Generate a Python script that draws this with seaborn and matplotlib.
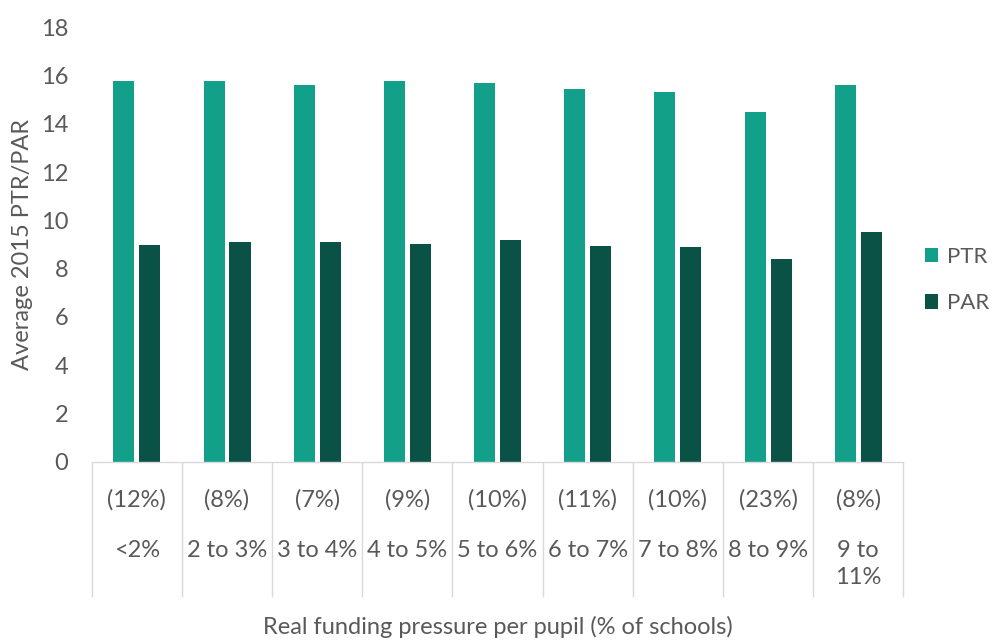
import pandas as pd
import numpy as np
import matplotlib.pyplot as plt
import seaborn as sns
from matplotlib.patches import Patch

ranges = ['<2%', '2 to 3%', '3 to 4%', '4 to 5%', '5 to 6%', '6 to 7%', '7 to 8%', '8 to 9%', '9 to\n11%']
shares = ['(12%)', '(8%)', '(7%)', '(9%)', '(10%)', '(11%)', '(10%)', '(23%)', '(8%)']
ptr = [15.79, 15.79, 15.63, 15.79, 15.68, 15.47, 15.31, 14.51, 15.63]
par = [8.99, 9.10, 9.10, 9.03, 9.20, 8.95, 8.88, 8.41, 9.52]

series_names = ['PTR', 'PAR']
colors = ['#12a08a', '#0a5246']
text_col = '#595959'
grid_col = '#d9d9d9'

df = pd.DataFrame({'band': ranges, 'PTR': ptr, 'PAR': par})
plot_df = df.melt(id_vars='band', value_vars=series_names, var_name='Series', value_name='value')

sns.set_style('white')
plt.rcParams['font.family'] = ['Lato', 'DejaVu Sans']
plt.rcParams['font.size'] = 17

fig = plt.figure(figsize=(9.94, 6.44), dpi=100)
ax = fig.add_axes([0.0923, 0.2831, 0.8165, 0.6742])

sns.barplot(data=plot_df, x='band', y='value', hue='Series', palette=colors, saturation=1,
            width=0.576, gap=0.19, linewidth=0, ax=ax, legend=False)

ax.set_ylim(0, 18)
ax.set_yticks(np.arange(0, 19, 2))
ax.set_xlim(-0.5, len(ranges) - 0.5)

for s in ['top', 'right', 'left']:
    ax.spines[s].set_visible(False)
ax.spines['bottom'].set_color(grid_col)
ax.spines['bottom'].set_linewidth(1)

# category boxes below the axis
ax.set_xticks(np.arange(-0.5, len(ranges), 1), minor=True)
ax.tick_params(axis='x', which='minor', bottom=True, direction='out', length=97, width=1, color=grid_col)
ax.set_xticks(range(len(ranges)))
ax.set_xticklabels(shares, va='center', color=text_col)
ax.tick_params(axis='x', which='major', length=0, pad=27.6)
ax.tick_params(axis='y', length=0, pad=16.8, labelcolor=text_col)

tr = ax.get_xaxis_transform()
for i, lab in enumerate(ranges):
    ax.text(i, -0.1808, lab, transform=tr, ha='center', va='top',
            color=text_col, linespacing=1.35)

ax.set_xlabel('Real funding pressure per pupil (% of schools)', color=text_col, va='top')
ax.xaxis.set_label_coords(0.5, -0.355)
ax.set_ylabel('Average 2015 PTR/PAR', color=text_col)
ax.yaxis.set_label_coords(-0.0723, 0.5)

handles = [Patch(facecolor=c, edgecolor='none') for c in colors]
fig.legend(handles, series_names, loc='center left', bbox_to_anchor=(925 / 994, 1 - 280 / 644),
           frameon=False, borderpad=0, borderaxespad=0, handlelength=0.6, handleheight=0.6,
           handletextpad=0.4, labelspacing=1.2, labelcolor=text_col, fontsize=16)

plt.savefig('out.png', dpi=100)
